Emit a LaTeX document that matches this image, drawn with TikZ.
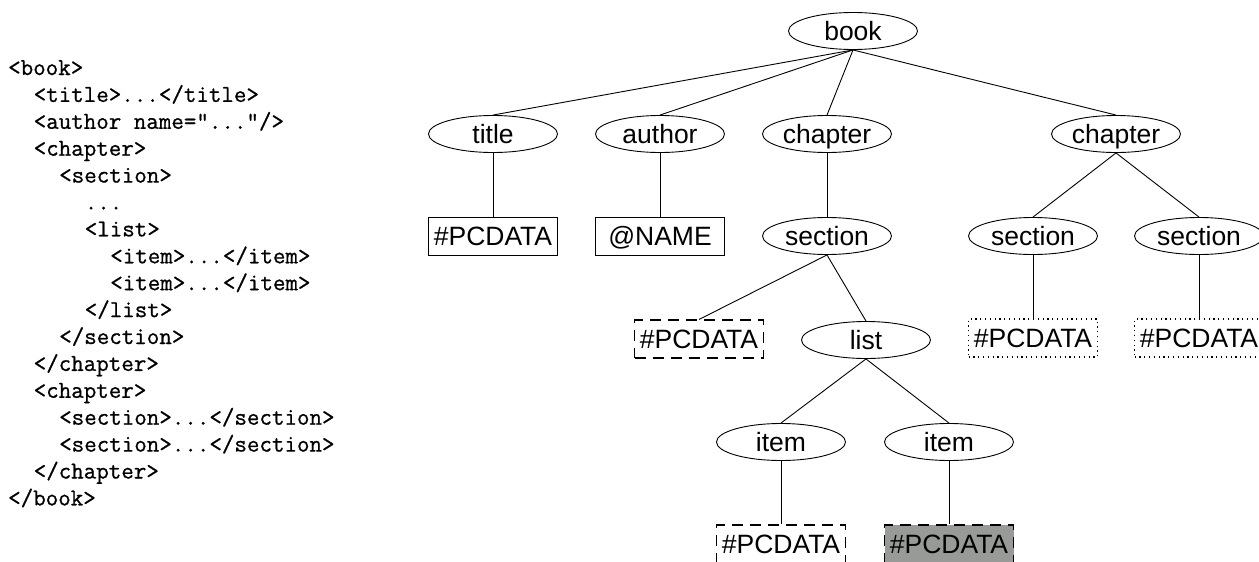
\documentclass[tikz,border=0pt]{standalone}
\usepackage{fontspec}
\setmainfont{Liberation Sans}
\newfontfamily\codefont[RawFeature={embolden=0.8}]{Latin Modern Mono}
\usetikzlibrary{shapes.geometric}
\definecolor{boxgray}{RGB}{152,154,151}
\begin{document}
\begin{tikzpicture}[x=1pt,y=-1pt,
  every node/.style={inner sep=0pt, font=\fontsize{26.5}{30}\selectfont, text height=22pt, text depth=3pt},
  elli/.style={ellipse, draw, line width=0.9pt, minimum width=129pt, minimum height=37pt},
  solidbox/.style={rectangle, draw, line width=0.9pt, minimum width=129pt, minimum height=38pt},
  dashbox/.style={rectangle, draw, line width=1.1pt, dash pattern=on 11pt off 7pt, minimum width=129pt, minimum height=38pt},
  dotbox/.style={rectangle, draw, line width=1.1pt, dash pattern=on 1.2pt off 3.6pt, minimum width=129pt, minimum height=38pt},
  codeline/.style={anchor=base west, font=\fontsize{24.3}{27}\codefont, text height=, text depth=},
  edge/.style={line width=0.9pt}]
\useasboundingbox (0,0) rectangle (1259,562);

% XML source listing
\def\ind{12.76}
\node[codeline] (c1)  at (8+0*\ind,75)      {<book>};
\node[codeline] (c2)  at (8+2*\ind,101.9)   {<title>...</title>};
\node[codeline] (c3)  at (8+2*\ind,128.8)   {<author name="..."/>};
\node[codeline] (c4)  at (8+2*\ind,155.7)   {<chapter>};
\node[codeline] (c5)  at (8+4*\ind,182.6)   {<section>};
\node[codeline] (c6)  at (8+6*\ind,209.5)   {...};
\node[codeline] (c7)  at (8+6*\ind,236.4)   {<list>};
\node[codeline] (c8)  at (8+8*\ind,263.3)   {<item>...</item>};
\node[codeline] (c9)  at (8+8*\ind,290.2)   {<item>...</item>};
\node[codeline] (c10) at (8+6*\ind,317.1)   {</list>};
\node[codeline] (c11) at (8+4*\ind,344.0)   {</section>};
\node[codeline] (c12) at (8+2*\ind,370.9)   {</chapter>};
\node[codeline] (c13) at (8+2*\ind,397.8)   {<chapter>};
\node[codeline] (c14) at (8+4*\ind,424.7)   {<section>...</section>};
\node[codeline] (c15) at (8+4*\ind,451.6)   {<section>...</section>};
\node[codeline] (c16) at (8+2*\ind,478.5)   {</chapter>};
\node[codeline] (c17) at (8+0*\ind,505.4)   {</book>};

% Tree nodes
\node[elli] (book)   at (853,31)  {book};
\node[elli] (title)  at (493,134) {title};
\node[elli] (author) at (660,134) {author};
\node[elli] (ch1)    at (827,134) {chapter};
\node[elli] (ch2)    at (1116,134) {chapter};
\node[solidbox] (titletxt) at (493,236) {\#PCDATA};
\node[solidbox] (name)     at (660,236) {@NAME};
\node[elli] (sec1) at (827,236)  {section};
\node[elli] (sec2) at (1033,236) {section};
\node[elli] (sec3) at (1199,236) {section};
\node[dashbox] (sectxt) at (699,339) {\#PCDATA};
\node[elli] (list) at (866,340) {list};
\node[dotbox] (sec2txt) at (1033,338) {\#PCDATA};
\node[dotbox] (sec3txt) at (1199,338) {\#PCDATA};
\node[elli] (item1) at (781,442) {item};
\node[elli] (item2) at (949,442) {item};
\node[dashbox] (item1txt) at (781,544) {\#PCDATA};
\node[dashbox, fill=boxgray] (item2txt) at (949,544) {\#PCDATA};

% Connectors
\draw[edge] (book.south) -- (title.north);
\draw[edge] (book.south) -- (author.north);
\draw[edge] (book.south) -- (ch1.north);
\draw[edge] (book.south) -- (ch2.north);
\draw[edge] (title.south) -- (titletxt.north);
\draw[edge] (author.south) -- (name.north);
\draw[edge] (ch1.south) -- (sec1.north);
\draw[edge] (ch2.south) -- (sec2.north);
\draw[edge] (ch2.south) -- (sec3.north);
\draw[edge] (sec1.south) -- (sectxt.north);
\draw[edge] (sec1.south) -- (list.north);
\draw[edge] (sec2.south) -- (sec2txt.north);
\draw[edge] (sec3.south) -- (sec3txt.north);
\draw[edge] (list.south) -- (item1.north);
\draw[edge] (list.south) -- (item2.north);
\draw[edge] (item1.south) -- (item1txt.north);
\draw[edge] (item2.south) -- (item2txt.north);
\end{tikzpicture}
\end{document}
